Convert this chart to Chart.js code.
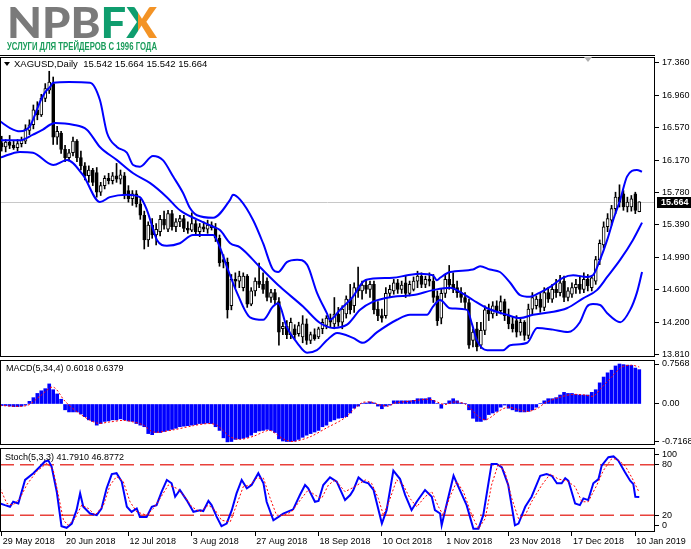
<!DOCTYPE html>
<html>
<head>
<meta charset="utf-8">
<title>XAGUSD, Daily</title>
<script src="https://cdn.jsdelivr.net/npm/chart.js@4.4.1/dist/chart.umd.min.js"></script>
<style>
  html, body { margin: 0; padding: 0; background: #fff; }
  #page { position: relative; width: 691px; height: 549px; overflow: hidden; background: #fff;
          font-family: "Liberation Sans", Arial, sans-serif; }
  canvas { position: absolute; left: 0; }
  .fit { position: absolute; left: 7px; white-space: nowrap; transform-origin: 0 0; }
  #brand { top: 1px; font: 900 42px/42px Lato, "Liberation Sans", sans-serif; color: #7a7a7a; }
  #brand .f { color: #0f9d6e; }
  #brand .x { background: linear-gradient(90deg, #0f9d6e 0 38%, #f39325 38% 100%);
              -webkit-background-clip: text; background-clip: text; color: transparent; }
  #tag { top: 41px; font: bold 11px/11px "Liberation Sans Narrow", "Liberation Sans", sans-serif; color: #1a9c5b; }
  .title { position: absolute; font-size: 9px; line-height: 10px; color: #000; white-space: nowrap; }
  #tMain { font-size: 9.5px; }
  #tri { position: absolute; left: 4px; top: 62px; width: 0; height: 0;
         border-left: 3px solid transparent; border-right: 3px solid transparent; border-top: 4px solid #000; }
  #rule { position: absolute; left: 0; top: 55px; width: 655px; height: 1px; background: #000; }
  #shift { position: absolute; left: 584px; top: 57px; width: 0; height: 0;
           border-left: 4px solid transparent; border-right: 4px solid transparent; border-top: 5px solid #b0b0b0; }
</style>
</head>
<body>
<div id="page">
  <div id="brand" class="fit">NPB<span class="f">F</span><span class="x">X</span></div>
  <div id="tag" class="fit">УСЛУГИ ДЛЯ ТРЕЙДЕРОВ С 1996 ГОДА</div>
  <div id="rule"></div>
  <canvas id="cMain" width="691" height="318" style="top:48px"></canvas>
  <canvas id="cMacd" width="691" height="100" style="top:352px"></canvas>
  <canvas id="cStoch" width="691" height="109" style="top:440px"></canvas>
  <div id="shift"></div>
  <div id="tri"></div>
  <div class="title" id="tMain" style="left:14px;top:59px"></div>
  <div class="title" style="left:6px;top:363px">MACD(5,34,4) 0.6018 0.6379</div>
  <div class="title" style="left:5px;top:452px">Stoch(5,3,3) 41.7910 46.8772</div>
</div>
<script>
/**
 * XAGUSD daily: candles + Bollinger bands, MACD(5,34,4), Stoch(5,3,3).
 * Three stacked Chart.js charts sharing one linear bar-index x scale.
 */
Chart.defaults.font.family = '"Liberation Sans", Arial, sans-serif';
Chart.defaults.font.size = 9;
Chart.defaults.color = '#000';

// time axis: bar index -> date label
const dateIdx = [0, 16, 32, 48, 64, 80, 96, 112, 128, 144, 160];
const dateLabels = ['29 May 2018', '20 Jun 2018', '12 Jul 2018', '3 Aug 2018', '27 Aug 2018', '18 Sep 2018',
  '10 Oct 2018', '1 Nov 2018', '23 Nov 2018', '17 Dec 2018', '10 Jan 2019'];

// right-hand scale labels
const mainTicks = [17.360, 16.960, 16.570, 16.170, 15.780, 15.390, 14.990, 14.600, 14.200, 13.810];
const macdTicks = [0.7568, 0, -0.7168];
const macdTickText = ['0.7568', '0.00', '-0.7168'];
const stochTickPos = [91.7, 80, 20, 8.3];
const stochTickText = ['100', '80', '20', '0'];
const stochLevels = [80, 20];

// daily candles
const opens = [
  16.38,16.33,16.39,16.35,16.32,16.37,16.40,16.53,16.60,16.78,
  16.72,16.92,17.02,17.10,16.45,16.50,16.30,16.20,16.26,16.40,
  16.20,16.10,15.98,16.05,16.02,15.78,15.86,15.95,15.92,15.98,
  15.94,15.98,15.80,15.70,15.76,15.64,15.50,15.20,15.38,15.26,
  15.30,15.45,15.33,15.52,15.36,15.42,15.46,15.34,15.32,15.40,
  15.30,15.36,15.33,15.38,15.35,15.22,14.96,14.93,14.40,14.72,
  14.70,14.62,14.76,14.42,14.58,14.70,14.66,14.70,14.50,14.56,
  14.45,14.12,14.15,14.05,14.12,14.06,14.02,14.18,13.98,14.05,
  14.02,14.12,14.16,14.25,14.18,14.30,14.20,14.30,14.48,14.40,
  14.62,14.58,14.65,14.60,14.66,14.36,14.28,14.28,14.55,14.58,
  14.68,14.60,14.68,14.55,14.60,14.70,14.76,14.66,14.72,14.70,
  14.52,14.25,14.55,14.72,14.66,14.62,14.56,14.50,14.44,13.98,
  14.12,13.92,14.10,14.35,14.30,14.40,14.34,14.45,14.28,14.18,
  14.22,14.08,14.20,14.04,14.36,14.40,14.48,14.38,14.56,14.48,
  14.60,14.56,14.70,14.50,14.54,14.62,14.66,14.60,14.72,14.62,
  14.70,14.96,15.14,15.36,15.44,15.58,15.72,15.76,15.60,15.60,
  15.76,15.542];
const highs = [
  16.46,16.42,16.47,16.40,16.42,16.45,16.60,16.66,16.84,16.88,
  16.97,17.10,17.25,17.18,16.58,16.52,16.35,16.30,16.45,16.42,
  16.28,16.14,16.10,16.07,16.08,15.90,15.98,16.01,16.02,16.13,
  16.05,16.02,15.86,15.80,15.80,15.70,15.55,15.42,15.46,15.40,
  15.50,15.55,15.56,15.56,15.46,15.50,15.50,15.42,15.53,15.44,
  15.40,15.42,15.44,15.42,15.40,15.26,15.02,14.98,14.78,14.80,
  14.82,14.80,14.78,14.62,14.74,14.92,14.80,14.74,14.60,14.60,
  14.50,14.20,14.22,14.25,14.17,14.20,14.28,14.24,14.08,14.12,
  14.14,14.24,14.28,14.30,14.50,14.38,14.40,14.52,14.66,14.68,
  14.87,14.70,14.72,14.70,14.70,14.45,14.36,14.62,14.65,14.72,
  14.72,14.70,14.76,14.70,14.75,14.82,14.80,14.76,14.80,14.78,
  14.58,14.60,14.78,14.89,14.80,14.70,14.62,14.56,14.48,14.12,
  14.20,14.20,14.40,14.42,14.45,14.46,14.52,14.48,14.36,14.26,
  14.28,14.26,14.22,14.42,14.56,14.52,14.56,14.62,14.62,14.66,
  14.72,14.77,14.76,14.62,14.68,14.72,14.76,14.80,14.78,14.76,
  15.00,15.20,15.42,15.52,15.62,15.78,15.87,15.80,15.72,15.74,
  15.78,15.664];
const lows = [
  16.28,16.27,16.31,16.30,16.28,16.33,16.37,16.48,16.55,16.66,
  16.70,16.88,16.98,16.36,16.36,16.25,16.15,16.16,16.22,16.15,
  16.05,15.93,15.90,15.86,15.72,15.74,15.82,15.88,15.88,15.90,
  15.88,15.70,15.66,15.62,15.60,15.45,15.09,15.12,15.22,15.14,
  15.25,15.33,15.30,15.32,15.30,15.36,15.30,15.28,15.30,15.26,
  15.24,15.30,15.28,15.32,15.18,14.88,14.86,14.25,14.35,14.62,
  14.62,14.58,14.38,14.40,14.52,14.62,14.55,14.46,14.44,14.42,
  13.92,14.05,14.00,14.00,14.00,14.03,13.95,13.93,13.94,13.98,
  14.00,14.06,14.12,14.14,14.12,14.15,14.12,14.25,14.30,14.32,
  14.50,14.48,14.55,14.50,14.30,14.22,14.20,14.25,14.50,14.54,
  14.55,14.55,14.50,14.52,14.58,14.62,14.62,14.62,14.64,14.44,
  14.16,14.18,14.50,14.60,14.56,14.50,14.44,14.36,13.88,13.90,
  13.85,13.88,14.05,14.22,14.25,14.28,14.30,14.22,14.12,14.08,
  14.02,14.04,13.98,14.00,14.30,14.36,14.32,14.34,14.44,14.44,
  14.50,14.52,14.45,14.46,14.50,14.55,14.55,14.56,14.58,14.58,
  14.66,14.90,15.10,15.30,15.38,15.52,15.60,15.56,15.54,15.55,
  15.52,15.542];
const closes = [
  16.33,16.39,16.35,16.32,16.37,16.41,16.55,16.60,16.78,16.72,
  16.92,17.04,17.12,16.45,16.52,16.30,16.20,16.26,16.40,16.20,
  16.10,15.98,16.05,15.90,15.78,15.86,15.95,15.92,15.98,15.94,
  15.99,15.75,15.70,15.76,15.64,15.50,15.20,15.38,15.26,15.33,
  15.45,15.38,15.52,15.36,15.42,15.46,15.34,15.32,15.40,15.30,
  15.36,15.33,15.38,15.35,15.22,14.92,14.93,14.35,14.72,14.70,
  14.76,14.76,14.42,14.58,14.70,14.66,14.60,14.50,14.56,14.47,
  14.08,14.15,14.05,14.20,14.05,14.16,14.18,13.98,14.05,14.00,
  14.12,14.20,14.25,14.20,14.30,14.20,14.36,14.48,14.35,14.62,
  14.58,14.65,14.60,14.66,14.35,14.28,14.25,14.55,14.60,14.68,
  14.60,14.65,14.55,14.66,14.70,14.76,14.66,14.72,14.70,14.50,
  14.22,14.55,14.72,14.65,14.62,14.56,14.50,14.44,13.92,14.08,
  13.90,14.10,14.35,14.30,14.40,14.34,14.45,14.28,14.18,14.12,
  14.08,14.20,14.04,14.36,14.50,14.48,14.38,14.56,14.48,14.60,
  14.56,14.68,14.50,14.58,14.62,14.66,14.60,14.72,14.64,14.74,
  14.96,15.16,15.36,15.46,15.58,15.72,15.66,15.60,15.66,15.70,
  15.56,15.664];

// Bollinger bands: [bar index, price]
const bbUpper = [[-0.4,16.64],[2.1,16.56],[4.6,16.52],[7.1,16.58],[8.4,16.72],[9.7,16.88],[10.9,16.99],[12.2,17.06],
  [13.0,17.11],[17,17.12],[22.3,17.11],[24.8,16.90],[26.6,16.50],[29.1,16.33],[31.6,16.26],[33.2,16.11],[34.9,16.09],
  [38.2,16.22],[40.7,16.17],[43.3,15.97],[45.8,15.77],[47.5,15.59],[49.3,15.50],[53.4,15.47],[57.7,15.69],[58.4,15.75],
  [60.2,15.69],[63.5,15.44],[66.0,15.16],[68.5,14.84],[69.8,14.81],[72.0,14.93],[74.6,14.96],[77.1,14.90],[79.6,14.56],
  [82.1,14.31],[82.9,14.23],[85.4,14.35],[88.7,14.51],[91.2,14.69],[93.8,14.73],[98.8,14.74],[102.4,14.77],[105.6,14.79],
  [108.9,14.77],[109.9,14.71],[110.7,14.74],[113.2,14.81],[119.0,14.84],[120.8,14.88],[123.3,14.84],[125.8,14.81],
  [128.4,14.68],[130.9,14.53],[133.4,14.51],[135.9,14.56],[138.5,14.63],[141.7,14.74],[144.3,14.77],[147.8,14.75],
  [149.3,14.77],[151.1,14.96],[152.9,15.20],[154.4,15.44],[156.2,15.69],[157.9,15.97],[160.4,16.05],[161.7,16.03]];
const bbMiddle = [[-0.4,16.41],[4.6,16.41],[7.9,16.48],[10.4,16.54],[12.2,16.60],[13.5,16.62],[18.0,16.60],[21.5,16.54],
  [24.8,16.33],[29.1,16.17],[33.2,16.01],[37.5,15.89],[41.7,15.72],[45.0,15.56],[49.3,15.45],[53.4,15.36],[55.1,15.32],
  [57.7,15.16],[60.2,15.11],[65.2,14.87],[70.3,14.63],[76.1,14.39],[80.4,14.19],[83.7,14.13],[87.2,14.17],[90.5,14.35],
  [93.8,14.45],[98.8,14.51],[103.9,14.53],[108.9,14.59],[113.2,14.62],[115.7,14.57],[119.0,14.47],[122.6,14.37],
  [127.6,14.29],[130.9,14.25],[134.2,14.29],[138.5,14.32],[142.7,14.37],[146.8,14.49],[150.3,14.59],[152.9,14.75],
  [156.2,14.96],[159.4,15.20],[161.7,15.41]];
const bbLower = [[-0.4,16.20],[4.6,16.27],[7.9,16.26],[13.0,16.11],[16.5,16.17],[20.5,15.99],[24.8,15.66],[27.3,15.72],
  [31.6,15.75],[34.9,15.72],[36.7,15.56],[39.2,15.20],[41.7,15.13],[45.0,15.16],[48.3,15.26],[53.4,15.26],[55.1,15.11],
  [56.9,14.87],[59.4,14.56],[62.7,14.26],[66.0,14.23],[68.5,14.39],[69.8,14.43],[72.0,14.14],[74.6,13.95],[77.1,13.83],
  [79.6,13.86],[82.1,13.98],[84.7,14.07],[88.7,14.01],[91.2,13.95],[94.8,14.08],[99.8,14.23],[103.1,14.29],[107.4,14.29],
  [108.9,14.39],[110.7,14.47],[113.2,14.37],[117.5,14.35],[118.8,14.17],[120.0,13.98],[122.6,13.86],[126.6,13.86],
  [128.4,13.92],[132.7,13.95],[135.2,14.13],[139.2,14.11],[143.0,14.08],[146.0,14.20],[147.8,14.39],[149.3,14.42],
  [151.1,14.41],[152.9,14.31],[156.2,14.20],[158.7,14.35],[160.4,14.56],[161.7,14.81]];

// MACD histogram, one value per bar
const macdHist = [
  -0.03,-0.03,-0.04,-0.05,-0.05,-0.04,-0.02,0.05,0.12,0.20,
  0.25,0.29,0.38,0.27,0.19,0.09,-0.11,-0.15,-0.15,-0.15,
  -0.19,-0.24,-0.30,-0.33,-0.40,-0.37,-0.33,-0.32,-0.30,-0.30,
  -0.28,-0.30,-0.32,-0.33,-0.37,-0.40,-0.43,-0.56,-0.58,-0.54,
  -0.54,-0.52,-0.50,-0.48,-0.46,-0.43,-0.42,-0.41,-0.40,-0.39,
  -0.37,-0.37,-0.36,-0.37,-0.43,-0.50,-0.64,-0.7168,-0.71,-0.67,
  -0.66,-0.65,-0.63,-0.59,-0.54,-0.51,-0.50,-0.48,-0.50,-0.54,
  -0.66,-0.70,-0.71,-0.71,-0.70,-0.67,-0.63,-0.59,-0.56,-0.53,
  -0.50,-0.43,-0.40,-0.33,-0.30,-0.27,-0.26,-0.24,-0.17,-0.08,
  -0.04,0.01,0.02,0.04,0.02,-0.04,-0.09,-0.04,-0.02,0.06,
  0.06,0.06,0.06,0.06,0.07,0.10,0.10,0.10,0.12,0.07,
  0.01,-0.08,0.01,0.06,0.10,0.06,0.02,0.01,-0.11,-0.27,
  -0.33,-0.33,-0.30,-0.20,-0.17,-0.14,-0.06,-0.02,-0.08,-0.11,
  -0.14,-0.15,-0.15,-0.14,-0.11,-0.06,0.01,0.06,0.10,0.10,
  0.12,0.17,0.22,0.20,0.20,0.18,0.17,0.17,0.17,0.22,
  0.27,0.40,0.51,0.59,0.64,0.72,0.7568,0.745,0.735,0.73,
  0.68,0.65];
// MACD signal line: [bar index, value]
const macdSignal = [[-0.4,-0.03],[6.3,-0.03],[9.7,0.15],[13.0,0.32],[16.0,0.05],[19.8,-0.19],[24.0,-0.36],[27.3,-0.34],
  [30.7,-0.31],[33.2,-0.34],[35.8,-0.40],[38.3,-0.53],[43.3,-0.49],[48.4,-0.41],[52.2,-0.37],[54.3,-0.40],[57.7,-0.62],
  [60.2,-0.67],[63.6,-0.61],[66.1,-0.53],[67.8,-0.50],[71.1,-0.66],[73.6,-0.71],[77.9,-0.62],[82.1,-0.45],[86.5,-0.27],
  [90.9,0.02],[93.4,0.035],[95.1,-0.01],[97.6,-0.04],[99.3,0.02],[103.5,0.055],[107.7,0.09],[109.4,0.055],[111.9,-0.01],
  [114.5,0.04],[117.0,0.0],[118.7,-0.11],[120.4,-0.24],[122.1,-0.30],[123.7,-0.24],[125.4,-0.14],[127.9,-0.06],
  [130.5,-0.11],[133.0,-0.14],[135.5,-0.075],[137.2,0.02],[140.6,0.12],[143.9,0.18],[147.3,0.17],[149.4,0.15],
  [151.5,0.31],[154.0,0.51],[156.6,0.70],[159.1,0.735],[161,0.70]];

// Stochastic %K and %D: [bar index, value]
const stochMain = [[-0.4,34],[0.8,32],[2.1,30],[2.9,36],[4.2,34],[5.9,62],[8.0,70],[9.7,78],[10.9,84],[11.8,85],[12.6,78],
  [13.9,48],[15.1,7],[16.4,5],[17.7,10],[18.9,26],[19.8,46],[20.6,30],[22.3,22],[24.0,20],[25.2,28],[26.5,52],[27.8,69],
  [29.0,70],[30.3,60],[31.6,30],[32.8,24],[34.1,28],[34.9,18],[36.6,18],[37.9,30],[39.1,32],[40.4,48],[41.7,62],[42.9,58],
  [43.8,42],[45.0,50],[46.7,38],[48.4,24],[50.1,26],[50.9,25],[52.2,37],[53.0,32],[54.3,18],[55.5,7],[56.8,10],[58.1,26],
  [59.3,46],[60.6,62],[61.9,52],[63.1,56],[64.8,70],[66.1,58],[66.9,36],[68.6,14],[69.9,18],[71.1,22],[73.6,27],[75.3,44],
  [76.6,56],[77.4,52],[79.1,36],[80.0,37],[81.2,56],[82.9,65],[84.6,60],[86.7,38],[88.0,44],[88.8,50],[90.1,65],[91.3,60],
  [92.6,58],[93.9,50],[96.0,10],[97.2,26],[98.9,73],[100.6,63],[101.9,44],[103.5,26],[104.8,36],[106.9,50],[108.6,42],
  [109.4,26],[110.7,22],[111.1,8],[112.4,34],[114.1,67],[115.3,54],[117.4,32],[119.1,4],[120.4,4],[121.6,20],[123.7,81],
  [125.0,81],[126.3,77],[127.9,56],[129.6,8],[130.5,10],[132.2,30],[133.8,42],[136.0,67],[137.6,69],[138.9,67],[140.2,58],
  [141.4,58],[142.3,64],[143.1,61],[144.8,34],[146.0,32],[146.9,40],[148.1,38],[149.4,58],[150.7,63],[151.5,79],[153.2,89],
  [154.5,90],[155.7,85],[157.4,71],[158.7,61],[159.5,57],[160.0,42],[161,41.79]];
const stochSignal = [[-0.4,52],[1.3,34],[2.9,32],[4.6,40],[6.3,56],[8.8,72],[11.4,82],[13.0,74],[14.3,44],[15.6,14],
  [16.8,8],[18.5,16],[20.2,32],[21.9,28],[23.6,20],[25.7,32],[27.4,56],[29.0,66],[30.7,60],[32.4,36],[34.1,24],[36.6,20],
  [38.3,28],[40.0,40],[42.1,56],[44.2,52],[45.9,44],[48.0,30],[50.1,24],[52.2,32],[53.9,26],[55.5,14],[57.7,12],[59.3,32],
  [61.0,54],[62.7,56],[64.4,64],[66.1,64],[67.8,40],[69.4,20],[71.1,20],[73.2,24],[75.7,40],[77.4,50],[79.1,44],[80.8,40],
  [82.5,56],[84.2,62],[86.7,48],[89.2,54],[91.8,62],[93.4,58],[95.1,40],[96.4,20],[98.1,40],[99.7,62],[101.4,56],
  [103.1,40],[104.8,30],[106.9,42],[108.6,48],[110.3,30],[111.5,20],[113.2,42],[114.9,60],[116.6,48],[118.7,20],[120.4,4],
  [122.1,16],[123.7,56],[125.4,81],[127.1,71],[128.8,40],[130.5,16],[132.2,20],[133.8,36],[136.4,56],[138.5,69],
  [140.6,63],[142.7,61],[144.8,54],[146.5,36],[148.1,36],[150.3,56],[151.9,73],[154.0,87],[155.3,87],[157.4,79],
  [159.1,65],[161,46.88]];

// ---- layout helpers ----
const X_MIN = -0.43, X_MAX = 164.97;
const last = closes.length - 1;
document.getElementById('tMain').textContent =
  'XAGUSD,Daily\u00a0 ' + [opens[last], highs[last], lows[last], closes[last]].map(v => v.toFixed(3)).join(' ');

const pts = arr => arr.map(([x, y]) => ({ x, y }));

function xAxis(show) {
  return {
    type: 'linear', min: X_MIN, max: X_MAX, offset: false, display: show,
    afterBuildTicks: s => { s.ticks = dateIdx.map(v => ({ value: v })); },
    afterFit: s => { s.height = show ? 17 : 0; s.paddingLeft = 0; s.paddingRight = 0; },
    ticks: { autoSkip: false, maxRotation: 0, align: 'start', padding: 0, labelOffset: 1,
             callback: (v, k) => dateLabels[k] },
    grid: { drawOnChartArea: false, drawTicks: true, tickLength: 4, color: '#000', offset: false },
    border: { display: false },
  };
}

function yAxis(min, max, vals, fmt) {
  return {
    position: 'right', min, max, beginAtZero: false,
    afterBuildTicks: s => { s.ticks = vals.map(v => ({ value: v })); },
    afterFit: s => { s.width = 36; s.paddingTop = 0; s.paddingBottom = 0; },
    ticks: { autoSkip: false, padding: 3, callback: fmt },
    grid: { drawOnChartArea: false, drawTicks: true, tickLength: 4, color: '#000' },
    border: { display: false },
  };
}

const framePlugin = {
  id: 'frame',
  afterDraw(chart) {
    const { ctx, chartArea: a } = chart;
    ctx.save();
    ctx.strokeStyle = '#000';
    ctx.lineWidth = 1;
    ctx.strokeRect(a.left + 0.5, a.top + 0.5, a.right - a.left - 1, a.bottom - a.top - 1);
    ctx.restore();
  },
};

// current price line + black price tag on the axis
const priceTag = {
  id: 'priceTag',
  beforeDatasetsDraw(chart) {
    const { ctx, chartArea: a, scales: { y } } = chart;
    const py = Math.round(y.getPixelForValue(closes[last])) + 0.5;
    ctx.save();
    ctx.strokeStyle = '#c8c8c8';
    ctx.beginPath(); ctx.moveTo(a.left, py); ctx.lineTo(a.right, py); ctx.stroke();
    ctx.restore();
  },
  afterDraw(chart) {
    const { ctx, chartArea: a, scales: { y } } = chart;
    const py = Math.round(y.getPixelForValue(closes[last]));
    ctx.save();
    ctx.fillStyle = '#000';
    ctx.fillRect(a.right + 2, py - 5, 34, 11);
    ctx.fillStyle = '#fff';
    ctx.font = 'bold 9px "Liberation Sans", Arial, sans-serif';
    ctx.textBaseline = 'middle';
    ctx.fillText(closes[last].toFixed(3), a.right + 6, py + 0.5);
    ctx.restore();
  },
};

const common = {
  responsive: false, animation: false, events: [],
  plugins: { legend: { display: false }, tooltip: { enabled: false } },
};

const bandDs = arr => ({
  type: 'line', data: pts(arr), borderColor: '#0000ff', borderWidth: 2,
  pointRadius: 0, cubicInterpolationMode: 'monotone', fill: false,
});

// ---- main price pane ----
const isBull = i => closes[i] >= opens[i];
new Chart(document.getElementById('cMain'), {
  type: 'bar',
  data: {
    datasets: [
      bandDs(bbUpper), bandDs(bbMiddle), bandDs(bbLower),
      {
        data: opens.map((o, i) => ({ x: i, y: [o, closes[i]] })),
        backgroundColor: ctx => (isBull(ctx.dataIndex) ? '#ffffff' : '#000000'),
        borderColor: '#000', borderWidth: 1, borderSkipped: false,
        barThickness: 3, grouped: false, minBarLength: 1,
      },
      {
        data: lows.map((l, i) => ({ x: i, y: [l, highs[i]] })),
        backgroundColor: '#000', barThickness: 1, grouped: false,
      },
    ],
  },
  options: {
    ...common,
    layout: { padding: { top: 9, bottom: 9, left: 0, right: 0 } },
    scales: {
      x: xAxis(false),
      y: yAxis(13.7772, 17.4233, mainTicks, v => v.toFixed(3)),
    },
  },
  plugins: [priceTag, framePlugin],
});

// ---- MACD pane ----
new Chart(document.getElementById('cMacd'), {
  type: 'bar',
  data: {
    datasets: [
      { type: 'line', data: pts(macdSignal), borderColor: '#ff0000', borderWidth: 1, borderDash: [2, 2],
        pointRadius: 0, tension: 0.3 },
      { data: macdHist.map((v, i) => ({ x: i, y: v })), backgroundColor: '#0000ff',
        barThickness: 3, grouped: false },
    ],
  },
  options: {
    ...common,
    layout: { padding: { top: 8, bottom: 7, left: 0, right: 0 } },
    scales: {
      x: xAxis(false),
      y: yAxis(-0.7758, 0.8325, macdTicks, (v, k) => macdTickText[k]),
    },
  },
  plugins: [framePlugin],
});

// ---- Stochastic pane ----
new Chart(document.getElementById('cStoch'), {
  type: 'line',
  data: {
    datasets: [
      { data: pts(stochSignal), borderColor: '#ff0000', borderWidth: 1, borderDash: [2, 2], pointRadius: 0 },
      { data: pts(stochMain), borderColor: '#0000ff', borderWidth: 2, pointRadius: 0 },
      ...stochLevels.map(lv => ({
        data: [{ x: X_MIN, y: lv }, { x: X_MAX, y: lv }],
        borderColor: '#e8413b', borderWidth: 1.5, borderDash: [14, 6], pointRadius: 0,
      })),
    ],
  },
  options: {
    ...common,
    layout: { padding: { top: 8, bottom: 0, left: 0, right: 0 } },
    scales: {
      x: xAxis(true),
      y: yAxis(0, 100, stochTickPos, (v, k) => stochTickText[k]),
    },
  },
  plugins: [framePlugin],
});

// squeeze logo lines to their width in the original
for (const [id, w] of [['brand', 150], ['tag', 150]]) {
  const el = document.getElementById(id);
  el.style.transform = `scaleX(${w / el.getBoundingClientRect().width})`;
}
</script>
</body>
</html>
